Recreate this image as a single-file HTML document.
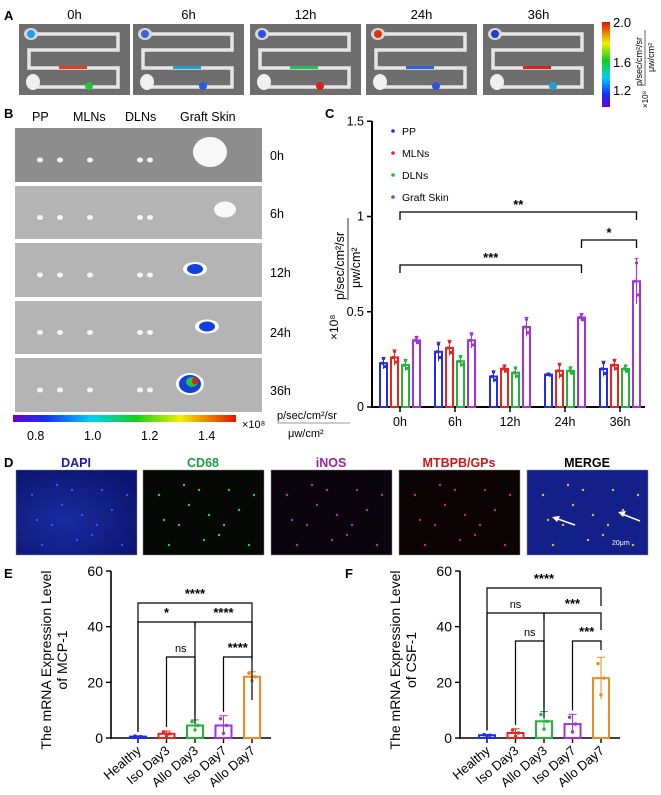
<!DOCTYPE html>
<html><head><meta charset="utf-8"><style>
body{margin:0;background:#fff;width:661px;height:795px;overflow:hidden;font-family:"Liberation Sans",Arial,sans-serif}
svg{display:block}
</style></head><body>
<svg id="fig" width="661" height="795" xmlns="http://www.w3.org/2000/svg" font-family="Liberation Sans, Arial, sans-serif">
<defs>
<linearGradient id="jet" x1="0" y1="0" x2="1" y2="0">
<stop offset="0" stop-color="#6a00c8"/><stop offset="0.15" stop-color="#1530ff"/><stop offset="0.35" stop-color="#00d0f0"/><stop offset="0.55" stop-color="#10d020"/><stop offset="0.75" stop-color="#f0f000"/><stop offset="1" stop-color="#e81000"/>
</linearGradient>
<linearGradient id="jetv" x1="0" y1="1" x2="0" y2="0">
<stop offset="0" stop-color="#6a00c8"/><stop offset="0.15" stop-color="#1530ff"/><stop offset="0.35" stop-color="#00d0f0"/><stop offset="0.55" stop-color="#10d020"/><stop offset="0.75" stop-color="#f0f000"/><stop offset="1" stop-color="#e81000"/>
</linearGradient>
<radialGradient id="dapi" cx="0.4" cy="0.6" r="0.7"><stop offset="0" stop-color="#1a2aa0"/><stop offset="1" stop-color="#0c1670"/></radialGradient>
</defs>

<g>
<text x="4" y="20" font-size="13" font-weight="bold">A</text>
<g id="aPanels"></g>
<rect x="602" y="22" width="8" height="85" fill="url(#jetv)"/>
<text x="613" y="27" font-size="13">2.0</text>
<text x="613" y="67" font-size="13">1.6</text>
<text x="613" y="95" font-size="13">1.2</text>
<g transform="translate(648,108) rotate(-90)">
<text x="0" y="0" font-size="8">×10⁸</text>
<text x="22" y="-6" font-size="9">p/sec/cm²/sr</text>
<line x1="22" y1="-3" x2="78" y2="-3" stroke="#000" stroke-width="0.6"/>
<text x="36" y="6" font-size="9">μw/cm²</text>
</g>
</g>

<g>
<text x="4" y="118" font-size="13" font-weight="bold">B</text>
<text x="32" y="121" font-size="12.5">PP</text>
<text x="73" y="121" font-size="12.5">MLNs</text>
<text x="125" y="121" font-size="12.5">DLNs</text>
<text x="180" y="121" font-size="12.5">Graft Skin</text>
<g id="bPanels"></g>
<rect x="13" y="415" width="223" height="7" fill="url(#jet)"/>
<text x="27" y="440" font-size="12.5">0.8</text>
<text x="84" y="440" font-size="12.5">1.0</text>
<text x="141" y="440" font-size="12.5">1.2</text>
<text x="198" y="440" font-size="12.5">1.4</text>
<text x="242" y="428" font-size="11">×10⁸</text>
<text x="277" y="419" font-size="11">p/sec/cm²/sr</text>
<line x1="277" y1="423" x2="350" y2="423" stroke="#777" stroke-width="0.8"/>
<text x="288" y="437" font-size="11">μw/cm²</text>
</g>

<g id="panelC">
<text x="325" y="118" font-size="13" font-weight="bold">C</text>
</g>

<g>
<text x="4" y="467" font-size="13" font-weight="bold">D</text>
<g id="dPanels"></g>
</g>

<g id="panelE">
<text x="4" y="578" font-size="13" font-weight="bold">E</text>
</g>
<g id="panelF">
<text x="345" y="578" font-size="13" font-weight="bold">F</text>
</g>
</svg>
<script>
const cGroups = ['0h','6h','12h','24h','36h'];
const cSeries = ['PP','MLNs','DLNs','Graft Skin'];
const cPP = [0.23,0.29,0.16,0.17,0.20];
const cMLN = [0.26,0.31,0.20,0.19,0.22];
const cDLN = [0.22,0.24,0.18,0.19,0.20];
const cGraft = [0.35,0.35,0.42,0.47,0.66];
const cErrPP = [0.03,0.05,0.03,0.005,0.04];
const cErrMLN = [0.04,0.04,0.02,0.04,0.03];
const cErrDLN = [0.03,0.03,0.03,0.02,0.02];
const cErrGraft = [0.02,0.04,0.05,0.02,0.12];
const cTicks = [0,0.5,1,1.5];
const cTickLabels = ['0','0.5','1','1.5'];
const efCategories = ['Healthy','Iso Day3','Allo Day3','Iso Day7','Allo Day7'];
const eValues = [0.5,1.5,4.5,4.5,22];
const eErr = [0.3,1,2,3.5,1.8];
const fValues = [1,1.8,6,5,21.5];
const fErr = [0.3,1.5,3.5,3.5,7.5];
const efTicks = [0,20,40,60];

const NS='http://www.w3.org/2000/svg';
function mk(parent,tag,attrs,text){const e=document.createElementNS(NS,tag);for(const k in attrs)e.setAttribute(k,attrs[k]);if(text!==undefined)e.textContent=text;parent.appendChild(e);return e;}

(function(){
 const g=document.getElementById('aPanels');
 const xs=[19,133,250,366,483], labs=['0h','6h','12h','24h','36h'];
 xs.forEach((x,i)=>{
  const w=111,y=24,h=71;
  const r=mk(g,'rect',{x:x,y:y,width:w,height:h,fill:'#6e6e6e'});
  
  
  const t=mk(g,'text',{x:x+w/2,y:19,'font-size':13,'text-anchor':'middle'},labs[i]);
  
  
  const d=`M${x+12} ${y+10} H${x+w-12} V${y+26} H${x+10} V${y+44} H${x+w-12} V${y+63} H${x+12}`;
  mk(g,'path',{d:d,fill:'none',stroke:'#e6e6e6','stroke-width':3.5});
  mk(g,'ellipse',{cx:x+12,cy:y+10,rx:7,ry:6,fill:'#d8d8d8'});
  mk(g,'ellipse',{cx:x+14,cy:y+58,rx:7,ry:8,fill:'#f0f0f0'});
  mk(g,'circle',{cx:x+12,cy:y+10,r:4,fill:['#20a0e0','#4060e0','#3050e0','#e03010','#2040d0'][i]});
  mk(g,'circle',{cx:x+70,cy:y+62,r:4,fill:['#20c040','#2060e0','#e02010','#3050e0','#20a0d0'][i]});
  mk(g,'rect',{x:x+40,y:y+42,width:28,height:3,fill:['#e04020','#20a0d0','#20c060','#3060e0','#e02020'][i]});
 });
})();

(function(){
 const g=document.getElementById('bPanels');
 const ys=[128,186,243,301,358], hs=[54,53,54,53,54], labs=['0h','6h','12h','24h','36h'];
 const ly=[160,218,277,337,395];
 ys.forEach((y,i)=>{
  const r=mk(g,'rect',{x:15,y:y,width:247,height:hs[i],fill:i==0?'#8e8e8e':'#b4b4b4'});
  
  
  const t=mk(g,'text',{x:270,y:ly[i],'font-size':12.5},labs[i]);
  
  
  const cy=y+hs[i]/2+5;
  [40,60,90,140,150].forEach(cx=>mk(g,'ellipse',{cx:cx,cy:cy,rx:3,ry:2.5,fill:'#f4f4f4'}));
  const gx=[210,225,195,207,190][i];
  if(i==0) mk(g,'ellipse',{cx:gx,cy:cy-8,rx:17,ry:15,fill:'#f8f8f8'});
  else if(i==1) mk(g,'ellipse',{cx:gx,cy:cy-8,rx:11,ry:8,fill:'#f8f8f8'});
  else { mk(g,'ellipse',{cx:gx,cy:cy-6,rx:i==4?14:12,ry:i==4?11:7,fill:'#fff'});
         mk(g,'ellipse',{cx:gx,cy:cy-6,rx:i==4?11:8,ry:i==4?9:5,fill:'#1040e0'});
         if(i==4){mk(g,'ellipse',{cx:gx+2,cy:cy-8,rx:6,ry:5,fill:'#30c040'});mk(g,'ellipse',{cx:gx+5,cy:cy-9,rx:3,ry:3.5,fill:'#e02010'});} }
 });
})();

(function(){
 const g=document.getElementById('panelC');
 const x0=372,x1=645,yTop=121;
 const yScale=v=>407-v*190.5;
 const gx=i=>400+i*55;
 const colors=['#1f2ee8','#e8241f','#22b43a','#a531d8'];
 const vals=[cPP,cMLN,cDLN,cGraft], errs=[cErrPP,cErrMLN,cErrDLN,cErrGraft];
 const bw=7, step=11;
 let a=mk(g,'line',{x1:x0,y1:yTop,x2:x0,y2:408,stroke:'#000','stroke-width':2});
 
 a=mk(g,'line',{x1:x0-1,y1:407,x2:x1,y2:407,stroke:'#000','stroke-width':2});
 
 cTicks.forEach((v,i)=>{
  mk(g,'line',{x1:x0-5,y1:yScale(v),x2:x0,y2:yScale(v),stroke:'#000','stroke-width':1.5});
  const t=mk(g,'text',{x:x0-8,y:yScale(v)+4,'font-size':12.5,'text-anchor':'end'},cTickLabels[i]);
  
 });
 cGroups.forEach((lab,gi)=>{
  mk(g,'line',{x1:gx(gi),y1:407,x2:gx(gi),y2:412,stroke:'#000','stroke-width':1.5});
  const t=mk(g,'text',{x:gx(gi),y:426,'font-size':12.5,'text-anchor':'middle'},lab);
  
  for(let s=0;s<4;s++){
   const cx=gx(gi)+(s-1.5)*step, v=vals[s][gi], e=errs[s][gi];
   const b=mk(g,'rect',{x:cx-bw/2,y:yScale(v),width:bw,height:407-yScale(v),fill:'#fff',stroke:colors[s],'stroke-width':2});
   
   
   mk(g,'line',{x1:cx,y1:yScale(v+e),x2:cx,y2:yScale(v-e),stroke:colors[s],'stroke-width':1});
   mk(g,'line',{x1:cx-2,y1:yScale(v+e),x2:cx+2,y2:yScale(v+e),stroke:colors[s],'stroke-width':1});
   mk(g,'circle',{cx:cx,cy:yScale(v+e*0.8),r:1.6,fill:colors[s]});
   mk(g,'circle',{cx:cx-1.5,cy:yScale(v),r:1.6,fill:colors[s]});
   mk(g,'circle',{cx:cx+1.5,cy:yScale(v-e*0.6),r:1.6,fill:colors[s]});
  }
 });
 cSeries.forEach((n,i)=>{
  const y=131+i*22;
  mk(g,'circle',{cx:393,cy:y,r:1.8,fill:colors[i]});
  const t=mk(g,'text',{x:402,y:y+4,'font-size':10.5},n);
  
 });
 function br(xa,xb,y,lab,name){
  const p=mk(g,'path',{d:`M${xa} ${y+8} V${y} H${xb} V${y+8}`,fill:'none',stroke:'#000','stroke-width':1.3});
  
  mk(g,'text',{x:(xa+xb)/2,y:y-3,'font-size':13,'font-weight':'bold','text-anchor':'middle'},lab);
 }
 const gp=i=>gx(i)+1.5*step;
 br(gx(0),gp(4),212,'**','c-bracket-0h-36h');
 br(gp(3),gp(4),240,'*','c-bracket-24h-36h');
 br(gx(0),gp(3),265,'***','c-bracket-0h-24h');
 const yl=mk(g,'g',{transform:'translate(344,340) rotate(-90)'});
 
 mk(yl,'text',{x:0,y:-6,'font-size':12},'×10⁸');
 mk(yl,'text',{x:40,y:0,'font-size':12.5},'p/sec/cm²/sr');
 mk(yl,'line',{x1:40,y1:4,x2:122,y2:4,stroke:'#000','stroke-width':0.8});
 mk(yl,'text',{x:52,y:16,'font-size':12.5},'μw/cm²');
})();

(function(){
 const g=document.getElementById('dPanels');
 const xs=[16,143,271,399,527], labs=['DAPI','CD68','iNOS','MTBPB/GPs','MERGE'];
 const lc=['#1a1ab0','#1aa040','#a020a0','#d01818','#000'];
 const fills=['url(#dapi)','#050805','#0a050c','#0c0404','#14208a'];
 const dots=['#3050ff','#30d040','#b030b0','#d03020','#d0c040'];
 const pts=[[10,20],[30,50],[50,15],[70,60],[90,35],[20,70],[60,40],[100,70],[40,30],[80,15],[15,45],[105,20],[55,65],[75,50],[35,10]];
 xs.forEach((x,i)=>{
  const r=mk(g,'rect',{x:x,y:470,width:121,height:85,fill:fills[i],stroke:'#888','stroke-width':0.5});
  
  
  const t=mk(g,'text',{x:x+60,y:467,'font-size':12.5,'font-weight':'bold','text-anchor':'middle',fill:lc[i]},labs[i]);
  
  
  pts.forEach(p=>mk(g,'circle',{cx:x+p[0]+6,cy:470+p[1]+5,r:1.2,fill:dots[i]}));
 });
 mk(g,'line',{x1:575,y1:525,x2:555,y2:518,stroke:'#fff','stroke-width':1.5});
 mk(g,'path',{d:'M552 517 l8 -1 l-3 6 z',fill:'#fff'});
 mk(g,'line',{x1:640,y1:521,x2:622,y2:514,stroke:'#fff','stroke-width':1.5});
 mk(g,'path',{d:'M618 512 l8 -1 l-3 6 z',fill:'#fff'});
 mk(g,'text',{x:612,y:545,'font-size':7,fill:'#fff'},'20μm');
})();

function barChart(gid,x0,values,errs,ylab2,brackets,prefix){
 const g=document.getElementById(gid);
 const yScale=v=>738-v*(167/60);
 const bx=i=>x0+27+i*28.5;
 const colors=['#1f2ee8','#e8241f','#22b43a','#a531d8','#f08a1e'];
 let a=mk(g,'line',{x1:x0,y1:571,x2:x0,y2:739,stroke:'#000','stroke-width':1.6});
 
 a=mk(g,'line',{x1:x0-1,y1:738,x2:x0+160,y2:738,stroke:'#000','stroke-width':1.6});
 
 efTicks.forEach(v=>{
  mk(g,'line',{x1:x0-5,y1:yScale(v),x2:x0,y2:yScale(v),stroke:'#000','stroke-width':1.4});
  const t=mk(g,'text',{x:x0-8,y:yScale(v)+5,'font-size':14,'text-anchor':'end'},String(v));
  
 });
 efCategories.forEach((c,i)=>{
  const cx=bx(i),v=values[i],e=errs[i];
  mk(g,'line',{x1:cx,y1:738,x2:cx,y2:743,stroke:'#000','stroke-width':1.4});
  const b=mk(g,'rect',{x:cx-8,y:yScale(v),width:16,height:738-yScale(v),fill:'#fff',stroke:colors[i],'stroke-width':2});
  
  
  mk(g,'line',{x1:cx,y1:yScale(v+e),x2:cx,y2:yScale(Math.max(0,v-e)),stroke:colors[i],'stroke-width':1});
  mk(g,'line',{x1:cx-4,y1:yScale(v+e),x2:cx+4,y2:yScale(v+e),stroke:colors[i],'stroke-width':1});
  mk(g,'circle',{cx:cx-3,cy:yScale(v+e*0.7),r:1.7,fill:colors[i]});
  mk(g,'circle',{cx:cx+3,cy:yScale(v),r:1.7,fill:colors[i]});
  mk(g,'circle',{cx:cx,cy:yScale(Math.max(0,v-e*0.8)),r:1.7,fill:colors[i]});
  const t=mk(g,'text',{x:cx+4,y:752,'font-size':13,'text-anchor':'end',transform:`rotate(-40 ${cx+4} 752)`},c);
  
 });
 brackets.forEach(b=>{
  const xa=bx(b[0]),xb=bx(b[1]),y=b[2];
  const p=mk(g,'path',{d:`M${xa} ${yScale(values[b[0]]+errs[b[0]])-4} V${y} H${xb} V${b[4]}`,fill:'none',stroke:'#000','stroke-width':1.2});
  
  const ns=b[3]==='ns';
  mk(g,'text',{x:(xa+xb)/2,y:y-5,'font-size':ns?11:13,'font-weight':ns?'normal':'bold','text-anchor':'middle'},b[3]);
 });
 const yl=mk(g,'g',{transform:`translate(${x0-60},660) rotate(-90)`});
 
 mk(yl,'text',{x:0,y:0,'font-size':14,'text-anchor':'middle'},'The mRNA Expression Level');
 mk(yl,'text',{x:0,y:16,'font-size':14,'text-anchor':'middle'},ylab2);
}
barChart('panelE',111,eValues,eErr,'of MCP-1',
 [[0,4,603,'****',660],[0,2,622,'*',628],[2,4,622,'****',657],[1,2,657,'ns',724],[3,4,657,'****',700]],'e');
barChart('panelF',460,fValues,fErr,'of CSF-1',
 [[0,4,588,'****',606],[0,2,613,'ns',620],[2,4,613,'***',630],[1,2,641,'ns',718],[3,4,641,'***',650]],'f');
</script>
</body></html>
